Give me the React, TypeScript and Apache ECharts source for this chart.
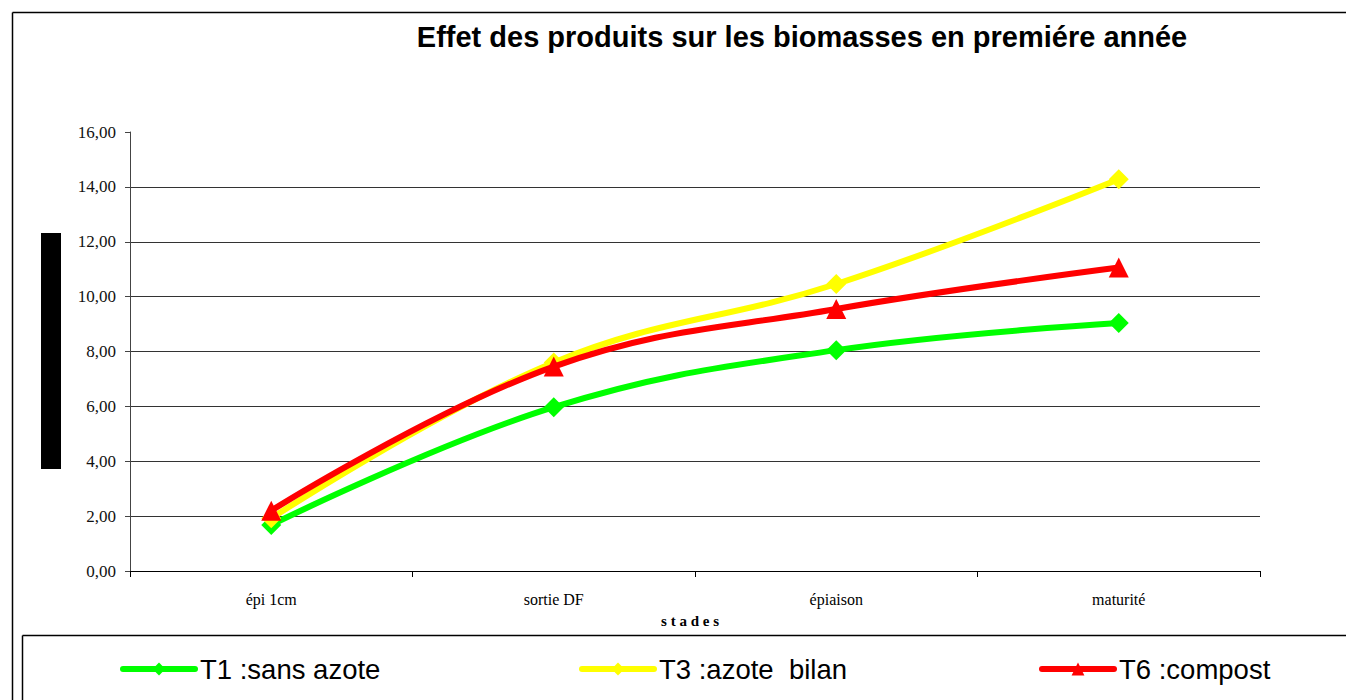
import React, { useEffect, useRef } from "react";
import * as echarts from "echarts";

const categories = ["épi 1cm", "sortie DF", "épiaison", "maturité"];
const seriesNames = ["T1 :sans azote", "T3 :azote  bilan", "T6 :compost"];
const t1Values = [1.68, 5.97, 8.05, 9.04];
const t3Values = [1.92, 7.6, 10.46, 14.28];
const t6Values = [2.2, 7.45, 9.55, 11.06];
const seriesColors = ["#00FF00", "#FFFF00", "#FF0000"];
const seriesSymbols = ["diamond", "diamond", "triangle"];
const titleText = "Effet des produits sur les biomasses en premiére année";
const xAxisName = "s t a d e s";

export default function App() {
  const ref = useRef<HTMLDivElement>(null);
  useEffect(() => {
    if (!ref.current) return;
    const chart = echarts.init(ref.current, null, { renderer: "svg" });
    const values = [t1Values, t3Values, t6Values];
    const legendLefts = [115, 574, 1034];
    const frameStyle = { stroke: "#000", lineWidth: 1.5 };
    const option: any = {
      animation: false,
      backgroundColor: "#ffffff",
      title: {
        text: titleText,
        left: 797,
        top: 17,
        textAlign: "center",
        textStyle: {
          fontFamily: "Liberation Sans, Arial, sans-serif",
          fontSize: 29,
          fontWeight: "bold",
          color: "#000",
        },
      },
      legend: seriesNames.map((n, i) => ({
        data: [n],
        left: legendLefts[i],
        top: 650,
        itemWidth: 72,
        itemHeight: 16,
        itemGap: 5,
        lineStyle: { width: 6, cap: "round" },
        textStyle: {
          fontFamily: "Liberation Sans, Arial, sans-serif",
          fontSize: 27.5,
          color: "#000",
        },
      })),
      grid: { left: 130, top: 132, width: 1130, height: 439 },
      xAxis: {
        type: "category",
        data: categories,
        boundaryGap: true,
        name: xAxisName,
        nameLocation: "middle",
        nameGap: 42,
        nameTextStyle: {
          fontFamily: "Liberation Serif, Times New Roman, serif",
          fontSize: 15,
          fontWeight: "bold",
          color: "#000",
          padding: [0, 10, 0, 0],
        },
        axisLine: { lineStyle: { color: "#000", width: 1 } },
        axisTick: { show: true, length: 6, alignWithLabel: false, lineStyle: { color: "#000" } },
        axisLabel: {
          fontFamily: "Liberation Serif, Times New Roman, serif",
          fontSize: 16,
          color: "#000",
          margin: 20,
        },
        splitLine: { show: false },
      },
      yAxis: {
        type: "value",
        min: 0,
        max: 16,
        interval: 2,
        axisLine: { show: true, lineStyle: { color: "#444", width: 1 } },
        axisTick: { show: true, length: 5, lineStyle: { color: "#444" } },
        axisLabel: {
          fontFamily: "Liberation Serif, Times New Roman, serif",
          fontSize: 17,
          color: "#111",
          margin: 14,
          formatter: (v: number) => v.toFixed(2).replace(".", ","),
        },
        splitLine: {
          show: true,
          lineStyle: { color: "#333", width: 1 },
          showMaxLine: false,
        },
      },
      series: seriesNames.map((n, i) => ({
        name: n,
        type: "line",
        data: values[i],
        smooth: 0.4,
        symbol: seriesSymbols[i],
        symbolSize: 20,
        showAllSymbol: true,
        lineStyle: { color: seriesColors[i], width: 6 },
        itemStyle: { color: seriesColors[i] },
        z: 2 + i,
      })),
      graphic: [
        {
          type: "rect",
          shape: { x: 1328, y: 14, width: 18, height: 620 },
          style: { fill: "#fff" },
          silent: true,
          z: 50,
        },
        {
          type: "rect",
          shape: { x: 1328, y: 637, width: 18, height: 63 },
          style: { fill: "#fff" },
          silent: true,
          z: 50,
        },
        {
          type: "line",
          shape: { x1: 12.5, y1: 12.5, x2: 12.5, y2: 700 },
          style: frameStyle,
          silent: true,
          z: 60,
        },
        {
          type: "line",
          shape: { x1: 12.5, y1: 12.5, x2: 1346, y2: 12.5 },
          style: frameStyle,
          silent: true,
          z: 60,
        },
        {
          type: "line",
          shape: { x1: 22.5, y1: 635.5, x2: 22.5, y2: 700 },
          style: frameStyle,
          silent: true,
          z: 60,
        },
        {
          type: "line",
          shape: { x1: 22.5, y1: 635.5, x2: 1346, y2: 635.5 },
          style: frameStyle,
          silent: true,
          z: 60,
        },
        {
          type: "rect",
          shape: { x: 41, y: 233, width: 20, height: 236 },
          style: { fill: "#000" },
          silent: true,
        },
      ],
    };
    chart.setOption(option);
    return () => chart.dispose();
  }, []);
  return (
    <div
      ref={ref}
      style={{ position: "fixed", left: 0, top: 0, width: 1346, height: 700 }}
    />
  );
}
